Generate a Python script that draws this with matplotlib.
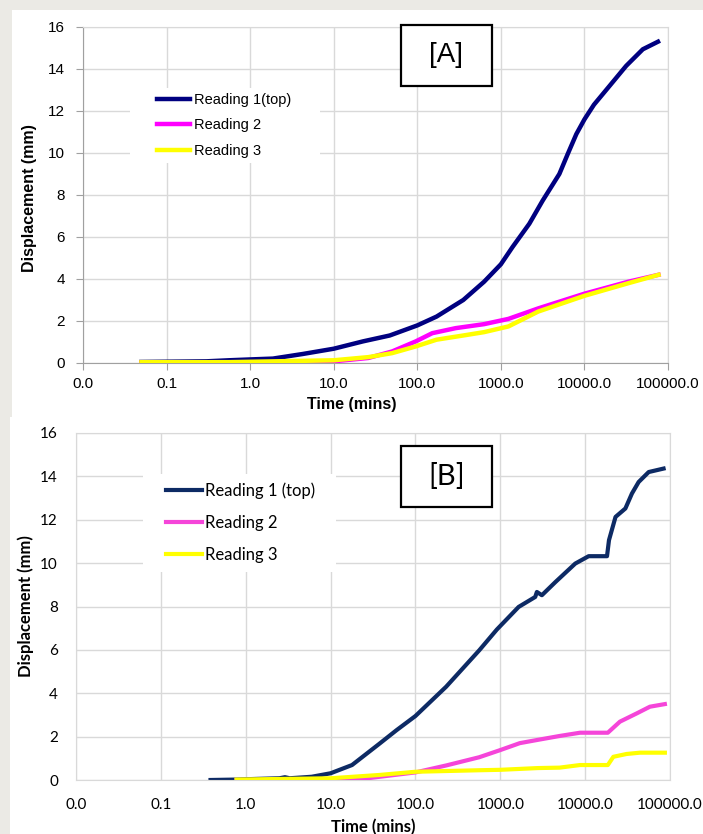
import numpy as np
import matplotlib.pyplot as plt
import matplotlib.ticker as ticker
from matplotlib.patches import Rectangle

W, H = 703, 834

# Panel A data (time in mins, displacement in mm)
a_t1 = [0.05, 0.3, 0.56, 1.0, 1.87, 4.27, 10, 22.4, 46.8, 100, 170, 355, 630, 1000, 1378,
        2190, 3160, 5010, 6310, 8000, 10000, 13000, 18200, 31600, 50000, 75900]
a_r1 = [0.05, 0.08, 0.13, 0.17, 0.21, 0.43, 0.68, 1.03, 1.31, 1.79, 2.21, 3.0, 3.87, 4.7, 5.52,
        6.63, 7.73, 9.0, 9.95, 10.9, 11.6, 12.3, 13.0, 14.15, 14.94, 15.3]
a_t2 = [0.05, 2.46, 10, 26, 50, 96, 151, 288, 630, 1230, 2800, 10000, 33500, 77000]
a_r2 = [0.03, 0.02, 0.08, 0.24, 0.55, 1.03, 1.42, 1.66, 1.85, 2.1, 2.6, 3.3, 3.87, 4.2]
a_t3 = [0.05, 0.56, 10, 26, 50, 96, 170, 355, 630, 1230, 2800, 10000, 33500, 77000]
a_r3 = [0.04, 0.04, 0.13, 0.28, 0.47, 0.79, 1.11, 1.31, 1.47, 1.74, 2.45, 3.2, 3.8, 4.2]

# Panel B data
b_t1 = [0.385, 0.78, 1.34, 2.5, 2.9, 3.3, 6.0, 10, 17.9, 37, 60, 100, 230, 565, 912, 1645, 2580,
        2700, 3090, 4470, 7650, 11000, 18100, 19100, 22800, 29800, 35600, 42700, 56100, 84000]
b_r1 = [0.0, 0.02, 0.05, 0.08, 0.13, 0.08, 0.15, 0.31, 0.69, 1.65, 2.3, 2.95, 4.3, 5.98, 6.94,
        7.98, 8.44, 8.67, 8.52, 9.13, 9.98, 10.32, 10.32, 11.06, 12.13, 12.52, 13.21, 13.74,
        14.2, 14.36]
b_t2 = [0.78, 10, 17.9, 30, 100, 230, 565, 1000, 1700, 2760, 5000, 8700, 18500, 25700, 40500,
        58000, 87000]
b_r2 = [0.0, 0.0, 0.02, 0.1, 0.35, 0.67, 1.05, 1.38, 1.7, 1.85, 2.03, 2.18, 2.18, 2.69, 3.07,
        3.38, 3.5]
b_t3 = [0.78, 10, 37, 100, 565, 1000, 2760, 5000, 8700, 18500, 21500, 30800, 44300, 87000]
b_r3 = [0.02, 0.08, 0.23, 0.38, 0.45, 0.47, 0.55, 0.57, 0.69, 0.69, 1.07, 1.2, 1.26, 1.26]

labels = ['Reading 1(top)', 'Reading 2', 'Reading 3']
labels_b = ['Reading 1 (top)', 'Reading 2', 'Reading 3']
x_ticks = [0.01, 0.1, 1, 10, 100, 1000, 10000, 100000]
y_ticks = np.arange(0, 17, 2)


def px(x0, y0, x1, y1):
    # pixel box (top-left origin) -> figure fraction rectangle
    return (x0 / W, 1 - y1 / H), (x1 - x0) / W, (y1 - y0) / H


fig = plt.figure(figsize=(W / 100, H / 100), dpi=100, facecolor='#ebeae5')
for box in [px(12, 10, W, 417), px(10, 417, W, H)]:
    fig.patches.append(Rectangle(box[0], box[1], box[2], transform=fig.transFigure,
                                 facecolor='white', edgecolor='none', zorder=-10))


def style_axes(ax, font, size, ticks_out):
    ax.set_xscale('log')
    ax.set_xlim(0.01, 100000)
    ax.set_ylim(0, 16)
    ax.xaxis.set_major_locator(ticker.FixedLocator(x_ticks))
    ax.xaxis.set_minor_locator(ticker.NullLocator())
    ax.xaxis.set_major_formatter(ticker.FormatStrFormatter('%.1f'))
    ax.set_yticks(y_ticks)
    ax.grid(True, color='#d9d9d9', linewidth=1.0)
    ax.set_axisbelow(True)
    for s in ax.spines.values():
        s.set_color('#d9d9d9')
    if ticks_out:
        ax.spines['bottom'].set_color('#a0a0a0')
        ax.spines['left'].set_color('#a0a0a0')
        ax.tick_params(length=5, color='#a0a0a0', labelsize=size)
        ax.tick_params(axis='y', pad=8)
        ax.tick_params(axis='x', pad=5)
    else:
        ax.tick_params(length=0, labelsize=size)
        ax.tick_params(axis='y', pad=13)
        ax.tick_params(axis='x', pad=13)
    for lab in ax.get_xticklabels() + ax.get_yticklabels():
        lab.set_family(font)


def add_label_box(text, x0, y0, x1, y1, font, size):
    pos = px(x0, y0, x1, y1)
    fig.add_artist(Rectangle(pos[0], pos[1], pos[2], transform=fig.transFigure,
                             facecolor='white', edgecolor='black', lw=1.6, zorder=5))
    fig.text((x0 + x1) / 2 / W, 1 - (y0 + y1) / 2 / H, text, ha='center', va='center',
             fontsize=size, family=font, zorder=6)


# ---- Panel A ----
axA = fig.add_axes([83 / W, 1 - 363 / H, 585 / W, 336 / H])
style_axes(axA, 'Liberation Sans', 11, True)
lA1, = axA.plot(a_t1, a_r1, color='#000080', lw=3.2, zorder=2)
lA2, = axA.plot(a_t2, a_r2, color='#ff00ff', lw=3.2, zorder=3)
lA3, = axA.plot(a_t3, a_r3, color='#ffff00', lw=3.2, zorder=4)
pos = px(130, 88, 320, 163)
axA.add_patch(Rectangle(pos[0], pos[1], pos[2], transform=fig.transFigure,
                        facecolor='white', edgecolor='none', zorder=1))
axA.legend([lA1, lA2, lA3], labels, loc='center left',
           bbox_to_anchor=(157 / W, 1 - 125.5 / H), bbox_transform=fig.transFigure,
           frameon=False, borderpad=0, borderaxespad=0,
           prop={'family': 'Liberation Sans', 'size': 10.5},
           handlelength=2.26, handletextpad=0.27, labelspacing=0.77)
axA.set_xlabel('Time (mins)', fontsize=11.5, fontweight='bold', family='Liberation Sans')
axA.xaxis.set_label_coords(0.46, -0.101)
axA.set_ylabel('Displacement (mm)', fontsize=11.5, fontweight='bold', family='Liberation Sans')
axA.yaxis.set_label_coords(-0.078, 0.49)
add_label_box('[A]', 401, 25, 492, 86, 'Liberation Sans', 20)

# ---- Panel B ----
axB = fig.add_axes([76 / W, 1 - 780 / H, 594 / W, 347 / H])
style_axes(axB, 'Lato', 11, False)
lB1, = axB.plot(b_t1, b_r1, color='#0d2a64', lw=3.0, zorder=2)
lB2, = axB.plot(b_t2, b_r2, color='#f545d9', lw=3.0, zorder=3)
lB3, = axB.plot(b_t3, b_r3, color='#ffff00', lw=3.0, zorder=4)
pos = px(143, 474, 336, 572)
axB.add_patch(Rectangle(pos[0], pos[1], pos[2], transform=fig.transFigure,
                        facecolor='white', edgecolor='none', zorder=1))
axB.legend([lB1, lB2, lB3], labels_b, loc='center left',
           bbox_to_anchor=(166 / W, 1 - 522.5 / H), bbox_transform=fig.transFigure,
           frameon=False, borderpad=0, borderaxespad=0,
           prop={'family': 'Lato', 'size': 12},
           handlelength=2.16, handletextpad=0.18, labelspacing=0.96)
axB.set_xlabel('Time (mins)', fontsize=12, fontweight='bold', family='Lato')
axB.xaxis.set_label_coords(0.5, -0.112)
axB.set_ylabel('Displacement (mm)', fontsize=12, fontweight='bold', family='Lato')
axB.yaxis.set_label_coords(-0.0707, 0.5)
add_label_box('[B]', 401, 446, 492, 507, 'Lato', 21)

fig.savefig('out.png', dpi=100, facecolor=fig.get_facecolor())
